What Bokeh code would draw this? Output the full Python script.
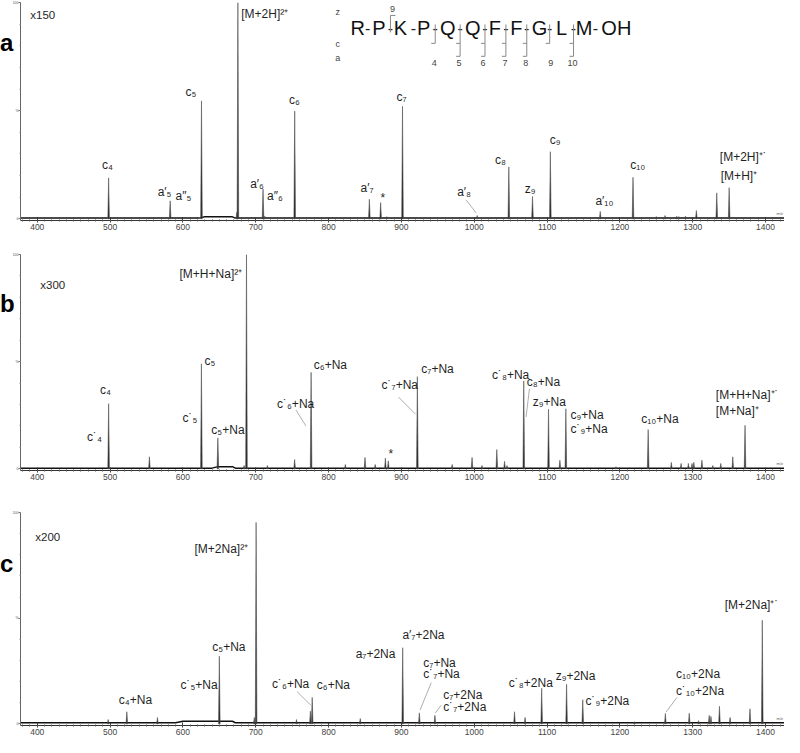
from bokeh.plotting import figure
from bokeh.models import ColumnDataSource, FixedTicker, Range1d, Div
from bokeh.layouts import column, row
from bokeh.embed import file_html
from bokeh.resources import INLINE
from bokeh.core.properties import value

FONT = "Liberation Sans"

# ---------------- data (m/z, relative intensity %) ----------------
a_mz = [498.0, 553.0, 582.5, 598.0, 625.5, 674.0, 675.5, 710.0, 712.5, 753.5,
        856.0, 871.5, 880.0, 901.5, 1004.0, 1010.0, 1047.5, 1080.0, 1104.5, 1173.0,
        1218.0, 1250.0, 1262.0, 1278.0, 1281.0, 1290.0, 1305.0, 1322.0, 1333.0, 1350.0]
a_int = [18.9, 0.6, 8.3, 0.8, 54.5, 3.0, 100.0, 13.8, 1.2, 49.8,
         9.0, 7.5, 1.0, 52.0, 1.5, 0.8, 24.0, 10.3, 31.0, 3.4,
         19.2, 1.0, 1.5, 1.2, 1.0, 1.2, 3.8, 0.8, 12.0, 14.4]

b_mz = [498.0, 554.0, 625.4, 648.0, 684.0, 687.3, 716.0, 753.4, 776.0, 823.0,
        850.0, 864.0, 878.0, 882.0, 921.9, 969.7, 997.0, 1010.6, 1031.0, 1041.6,
        1045.0, 1068.0, 1102.0, 1117.6, 1125.8, 1194.6, 1238.8, 1270.6, 1284.0, 1294.0,
        1299.0, 1301.5, 1312.6, 1327.6, 1338.5, 1355.0, 1371.8]
b_int = [30.4, 5.6, 49.0, 14.4, 1.5, 100.0, 1.5, 4.3, 45.0, 2.0,
         5.3, 2.0, 5.0, 3.7, 43.0, 2.0, 5.3, 1.5, 9.0, 3.5,
         1.5, 41.0, 27.8, 4.0, 28.0, 1.0, 18.3, 3.0, 2.5, 2.5,
         2.5, 3.0, 4.0, 1.5, 2.5, 5.6, 20.3]

c_mz = [497.4, 523.0, 565.0, 650.0, 698.0, 700.5, 756.0, 775.0, 777.5, 843.5,
        901.8, 924.6, 946.0, 1055.3, 1069.8, 1092.6, 1126.8, 1149.0, 1220.0, 1262.4,
        1295.2, 1308.0, 1322.6, 1325.0, 1336.7, 1351.3, 1378.6, 1395.5]
c_int = [2.0, 5.7, 3.0, 32.0, 3.0, 95.3, 2.0, 6.0, 12.5, 2.5,
         36.0, 5.2, 4.0, 5.7, 3.0, 16.8, 18.7, 11.4, 1.0, 4.9,
         5.0, 1.5, 4.0, 3.5, 8.3, 3.0, 7.1, 49.0]

# baselines (m/z, level %)
a_base_mz = [377, 622, 630, 668, 672, 1426]
a_base = [0.3, 0.3, 0.9, 0.9, 0.3, 0.3]
b_base_mz = [377, 640, 648, 668, 672, 1426]
b_base = [0.3, 0.3, 1.0, 1.0, 0.3, 0.3]
c_base_mz = [377, 590, 600, 668, 672, 1426]
c_base = [0.5, 0.5, 1.2, 1.2, 0.5, 0.5]

x_ticks = [400, 500, 600, 700, 800, 900, 1000, 1100, 1200, 1300, 1400]
y_ticks = [0, 50, 100]
y_tick_labels = {0: "0", 50: "%", 100: "100"}

scale_factors = {"a": "x150", "b": "x300", "c": "x200"}

sequence = ["R", "P", "K", "P", "Q", "Q", "F", "F", "G", "L", "M", "OH"]
frag_numbers = ["4", "5", "6", "7", "8", "9", "10"]

# ---------------- layout helpers (reference pixel -> data) ----------------
XPX0, XPX_PER = 37.0, 0.732
PANEL_Y = {"a": (219.0, 2.17), "b": (472.0, 2.15), "c": (739.0, 2.16)}


def mzx(px):
    return 400 + (px - XPX0) / XPX_PER


def pcty(panel, py):
    z, s = PANEL_Y[panel]
    return (z - py) / s


labels = {
    "a": [("c₄", 102, 165), ("a′₅", 158, 192), ("a″₅", 176, 196), ("c₅", 186, 92),
          ("[M+2H]²⁺", 242, 14), ("a′₆", 251, 184), ("a″₆", 268, 196), ("c₆", 290, 100),
          ("a′₇", 362, 188), ("*", 382, 198), ("c₇", 398, 97), ("a′₈", 459, 192),
          ("c₈", 497, 160), ("z₉", 527, 189), ("c₉", 552, 140), ("a′₁₀", 598, 201),
          ("c₁₀", 633, 165), ("[M+2H]⁺˙", 723, 157), ("[M+H]⁺", 724, 176)],
    "b": [("[M+H+Na]²⁺", 180, 277), ("c₄", 100, 393), ("c˙₄", 87, 440), ("c₅", 205, 364),
          ("c˙₅", 183, 421), ("c₅+Na", 212, 433), ("c˙₆+Na", 278, 407), ("c₆+Na", 315, 368),
          ("*", 390, 457), ("c˙₇+Na", 383, 388), ("c₇+Na", 423, 372), ("c˙₈+Na", 494, 378),
          ("c₈+Na", 529, 385), ("z₉+Na", 535, 405), ("c₉+Na", 573, 418), ("c˙₉+Na", 573, 432),
          ("c₁₀+Na", 644, 422), ("[M+H+Na]⁺˙", 719, 398), ("[M+Na]⁺", 719, 414)],
    "c": [("[M+2Na]²⁺", 195, 560), ("c₄+Na", 119, 715), ("c₅+Na", 213, 660),
          ("c˙₅+Na", 181, 699), ("c˙₆+Na", 273, 698), ("c₆+Na", 318, 699),
          ("a₇+2Na", 357, 668), ("a′₇+2Na", 404, 648), ("c₇+Na", 425, 677),
          ("c˙₇+Na", 425, 688), ("c₇+2Na", 445, 710), ("c˙₇+2Na", 445, 722),
          ("c˙₈+2Na", 511, 697), ("z₉+2Na", 558, 690), ("c˙₉+2Na", 588, 716),
          ("c₁₀+2Na", 679, 688), ("c˙₁₀+2Na", 679, 705), ("[M+2Na]⁺˙", 728, 618)],
}

leaders = {
    "a": [(468, 200, 478, 213)],
    "b": [(297, 413, 307, 429), (400, 400, 417, 417), (531.7, 391.7, 528.3, 420)],
    "c": [(298, 706, 312, 720), (421.7, 725, 433, 697), (437, 728, 443, 720), (669, 727, 680, 712)],
}

scale_pos = {"a": (30, 15), "b": (40, 288), "c": (35, 548)}

LETTER_W = 9
FIG_W = 784 - LETTER_W
PEAK_HALF_WIDTH = 1.1


def make_fig(h, top):
    p = figure(width=FIG_W, height=h, x_range=Range1d(377, 1426), y_range=Range1d(-0.8, 100),
               output_backend="svg", toolbar_location=None,
               min_border_left=4, min_border_right=0, min_border_top=top, min_border_bottom=0)
    p.xgrid.visible = False
    p.ygrid.visible = False
    p.outline_line_color = None
    p.border_fill_alpha = 0
    p.background_fill_alpha = 0
    p.xaxis.ticker = FixedTicker(ticks=x_ticks, minor_ticks=list(range(380, 1430, 10)))
    p.xaxis.major_label_text_font = FONT
    p.xaxis.major_label_text_font_size = "8.5px"
    p.xaxis.major_label_text_color = "#444444"
    p.xaxis.axis_line_color = "#333333"
    p.xaxis.major_tick_line_color = "#333333"
    p.xaxis.minor_tick_line_color = "#555555"
    p.xaxis.major_tick_in = 3
    p.xaxis.major_tick_out = 2
    p.xaxis.minor_tick_in = 1
    p.xaxis.minor_tick_out = 1
    p.xaxis.major_label_standoff = 1
    p.yaxis.ticker = FixedTicker(ticks=y_ticks, minor_ticks=list(range(0, 101, 10)))
    p.yaxis.major_label_overrides = y_tick_labels
    p.yaxis.major_label_text_font = FONT
    p.yaxis.major_label_text_font_size = "3.5px"
    p.yaxis.major_label_text_color = "#555555"
    p.yaxis.axis_line_color = "#666666"
    p.yaxis.major_tick_line_color = "#666666"
    p.yaxis.minor_tick_line_color = "#888888"
    p.yaxis.major_tick_in = 0
    p.yaxis.major_tick_out = 2
    p.yaxis.minor_tick_in = 0
    p.yaxis.minor_tick_out = 1
    p.yaxis.major_label_standoff = 0
    return p


def draw_panel(p, key, mz, inten, base_mz, base):
    p.line(base_mz, base, line_color="#111111", line_width=1.5)
    xs = [[m - PEAK_HALF_WIDTH, m, m + PEAK_HALF_WIDTH] for m in mz]
    ys = [[0, h, 0] for h in inten]
    p.patches(xs, ys, fill_color="#222222", line_color="#555555", line_width=0.6)
    src = ColumnDataSource(dict(
        x=[mzx(t[1]) for t in labels[key]],
        y=[pcty(key, t[2]) for t in labels[key]],
        text=[t[0] for t in labels[key]]))
    p.text(x="x", y="y", text="text", source=src, text_font=value(FONT),
           text_font_size="12px", text_color="#1f1f1f", text_align="left",
           text_baseline="middle")
    for (x0, y0, x1, y1) in leaders[key]:
        p.segment(x0=[mzx(x0)], y0=[pcty(key, y0)], x1=[mzx(x1)], y1=[pcty(key, y1)],
                  line_color="#999999", line_width=0.8)
    sx, sy = scale_pos[key]
    p.text(x=[mzx(sx)], y=[pcty(key, sy)], text=[scale_factors[key]], text_font=value(FONT),
           text_font_size="11.5px", text_color="#1f1f1f", text_align="left",
           text_baseline="middle")
    p.text(x=[1424], y=[1.2], text=["m/z"], text_font=value(FONT), text_font_size="4px",
           text_color="#555555", text_align="right", text_baseline="bottom")


def letter_div(letter, h, pad):
    html = ('<div style="margin-top:%dpx;font-family:\'Liberation Sans\',Arial,sans-serif;'
            'font-weight:bold;font-size:24px;line-height:24px;color:#000;white-space:nowrap;'
            'overflow:visible;">%s</div>' % (pad, letter))
    return Div(text=html, width=LETTER_W, height=h, margin=0,
               styles={"overflow": "visible"})


HA, HB, HC = 232, 250, 255
pa = make_fig(HA, 2)
draw_panel(pa, "a", a_mz, a_int, a_base_mz, a_base)
pb = make_fig(HB, 22)
draw_panel(pb, "b", b_mz, b_int, b_base_mz, b_base)
pc = make_fig(HC, 30)
draw_panel(pc, "c", c_mz, c_int, c_base_mz, c_base)

# ---------------- sequence diagram (panel a) ----------------
res_px = [359, 380.5, 402, 425.5, 449.7, 474.7, 497, 518.5, 541.7, 564, 586.7, 619]
hyph_px = [369, 392, 415, 437, 462, 487, 508, 529, 552, 576, 598]
pa.text(x=[mzx(v) for v in res_px], y=[pcty("a", 28)] * len(sequence), text=sequence,
        text_font=value(FONT), text_font_size="20px", text_color="#111111",
        text_align="center", text_baseline="middle")
pa.text(x=[mzx(v) for v in hyph_px], y=[pcty("a", 28)] * len(hyph_px), text=["-"] * len(hyph_px),
        text_font=value(FONT), text_font_size="16px", text_color="#222222",
        text_align="center", text_baseline="middle")
pa.segment(x0=[mzx(392)], y0=[pcty("a", 32)], x1=[mzx(392)], y1=[pcty("a", 15)],
           line_color="#888888", line_width=1)
pa.segment(x0=[mzx(392)], y0=[pcty("a", 15)], x1=[mzx(397)], y1=[pcty("a", 15)],
           line_color="#888888", line_width=1)
cut_px = [437, 462, 487, 508, 529, 552, 576]
cut_has_a = [False, True, True, True, True, False, True]
for cx, has_a in zip(cut_px, cut_has_a):
    bottom = 56 if has_a else 43
    pa.segment(x0=[mzx(cx)], y0=[pcty("a", 24)], x1=[mzx(cx)], y1=[pcty("a", bottom)],
               line_color="#888888", line_width=1)
    pa.segment(x0=[mzx(cx - 4)], y0=[pcty("a", 43)], x1=[mzx(cx)], y1=[pcty("a", 43)],
               line_color="#888888", line_width=1)
    if has_a:
        pa.segment(x0=[mzx(cx - 4)], y0=[pcty("a", 56)], x1=[mzx(cx)], y1=[pcty("a", 56)],
                   line_color="#888888", line_width=1)
num_px = [436, 461, 485, 507, 528, 553, 575]
pa.text(x=[mzx(v) for v in num_px], y=[pcty("a", 63)] * len(num_px), text=frag_numbers,
        text_font=value(FONT), text_font_size="9px", text_color="#444444",
        text_align="center", text_baseline="middle")
pa.text(x=[mzx(394)], y=[pcty("a", 9)], text=["9"], text_font=value(FONT),
        text_font_size="9px", text_color="#444444", text_align="center", text_baseline="middle")
pa.text(x=[mzx(339)] * 3, y=[pcty("a", 12), pcty("a", 44), pcty("a", 58)], text=["z", "c", "a"],
        text_font=value(FONT), text_font_size="9px", text_color="#444444",
        text_align="center", text_baseline="middle")

layout = column(
    row(letter_div("a", HA, 31), pa, spacing=0),
    row(letter_div("b", HB, 60), pb, spacing=0),
    row(letter_div("c", HC, 70), pc, spacing=0),
    spacing=0)
open("out.html", "w").write(file_html(layout, INLINE))
